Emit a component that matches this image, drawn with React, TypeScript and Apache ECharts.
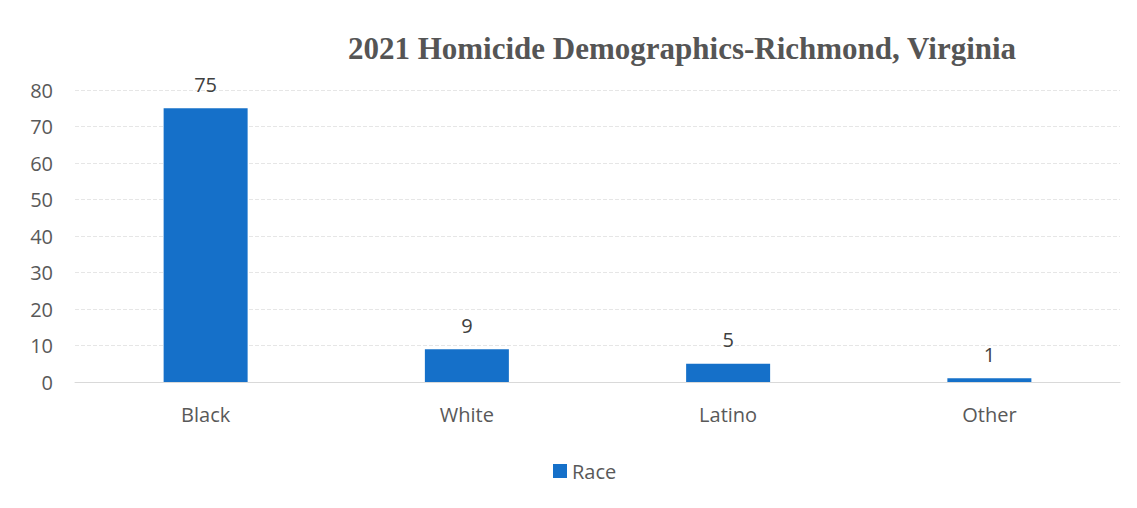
import React, { useEffect, useRef } from "react";
import * as echarts from "echarts";

const categories = ["Black", "White", "Latino", "Other"];
const raceValues = [75, 9, 5, 1];
const seriesName = "Race";
const titleText = "2021 Homicide Demographics-Richmond, Virginia";

export default function App() {
  const ref = useRef<HTMLDivElement>(null);
  useEffect(() => {
    if (!ref.current) return;
    const chart = echarts.init(ref.current, undefined, { renderer: "svg" });
    const labelFont = "'Open Sans', 'Liberation Sans', sans-serif";
    chart.setOption({
      animation: false,
      backgroundColor: "#ffffff",
      title: {
        text: titleText,
        left: 677,
        textAlign: "center",
        top: 28,
        textStyle: {
          fontFamily: "'Liberation Serif', serif",
          fontWeight: "bold",
          fontSize: 31,
          color: "#555555",
        },
      },
      legend: {
        data: [seriesName],
        left: 548,
        top: 456,
        itemWidth: 14,
        itemHeight: 14,
        icon: "rect",
        itemGap: 6,
        textStyle: { fontFamily: labelFont, fontSize: 20, color: "#595959" },
      },
      grid: { left: 75, right: 17, top: 90, bottom: 126, containLabel: false },
      xAxis: {
        type: "category",
        data: categories,
        axisLine: { show: true, lineStyle: { color: "#d9d9d9" } },
        axisTick: { show: false },
        axisLabel: {
          fontFamily: labelFont,
          fontSize: 20,
          color: "#595959",
          margin: 22,
        },
      },
      yAxis: {
        type: "value",
        min: 0,
        max: 80,
        interval: 10,
        axisLine: { show: false },
        axisTick: { show: false },
        axisLabel: {
          fontFamily: labelFont,
          fontSize: 20,
          color: "#595959",
          margin: 22,
        },
        splitLine: { lineStyle: { color: "#e6e6e6", type: "dashed" } },
      },
      series: [
        {
          name: seriesName,
          type: "bar",
          data: raceValues,
          barWidth: 84,
          itemStyle: { color: "#1570c9" },
          label: {
            show: true,
            position: "top",
            distance: 14,
            fontFamily: labelFont,
            fontSize: 20,
            color: "#404040",
          },
        },
      ],
    });
    return () => chart.dispose();
  }, []);
  return (
    <div
      ref={ref}
      style={{ position: "fixed", left: 0, top: 0, width: 1137, height: 508 }}
    />
  );
}
